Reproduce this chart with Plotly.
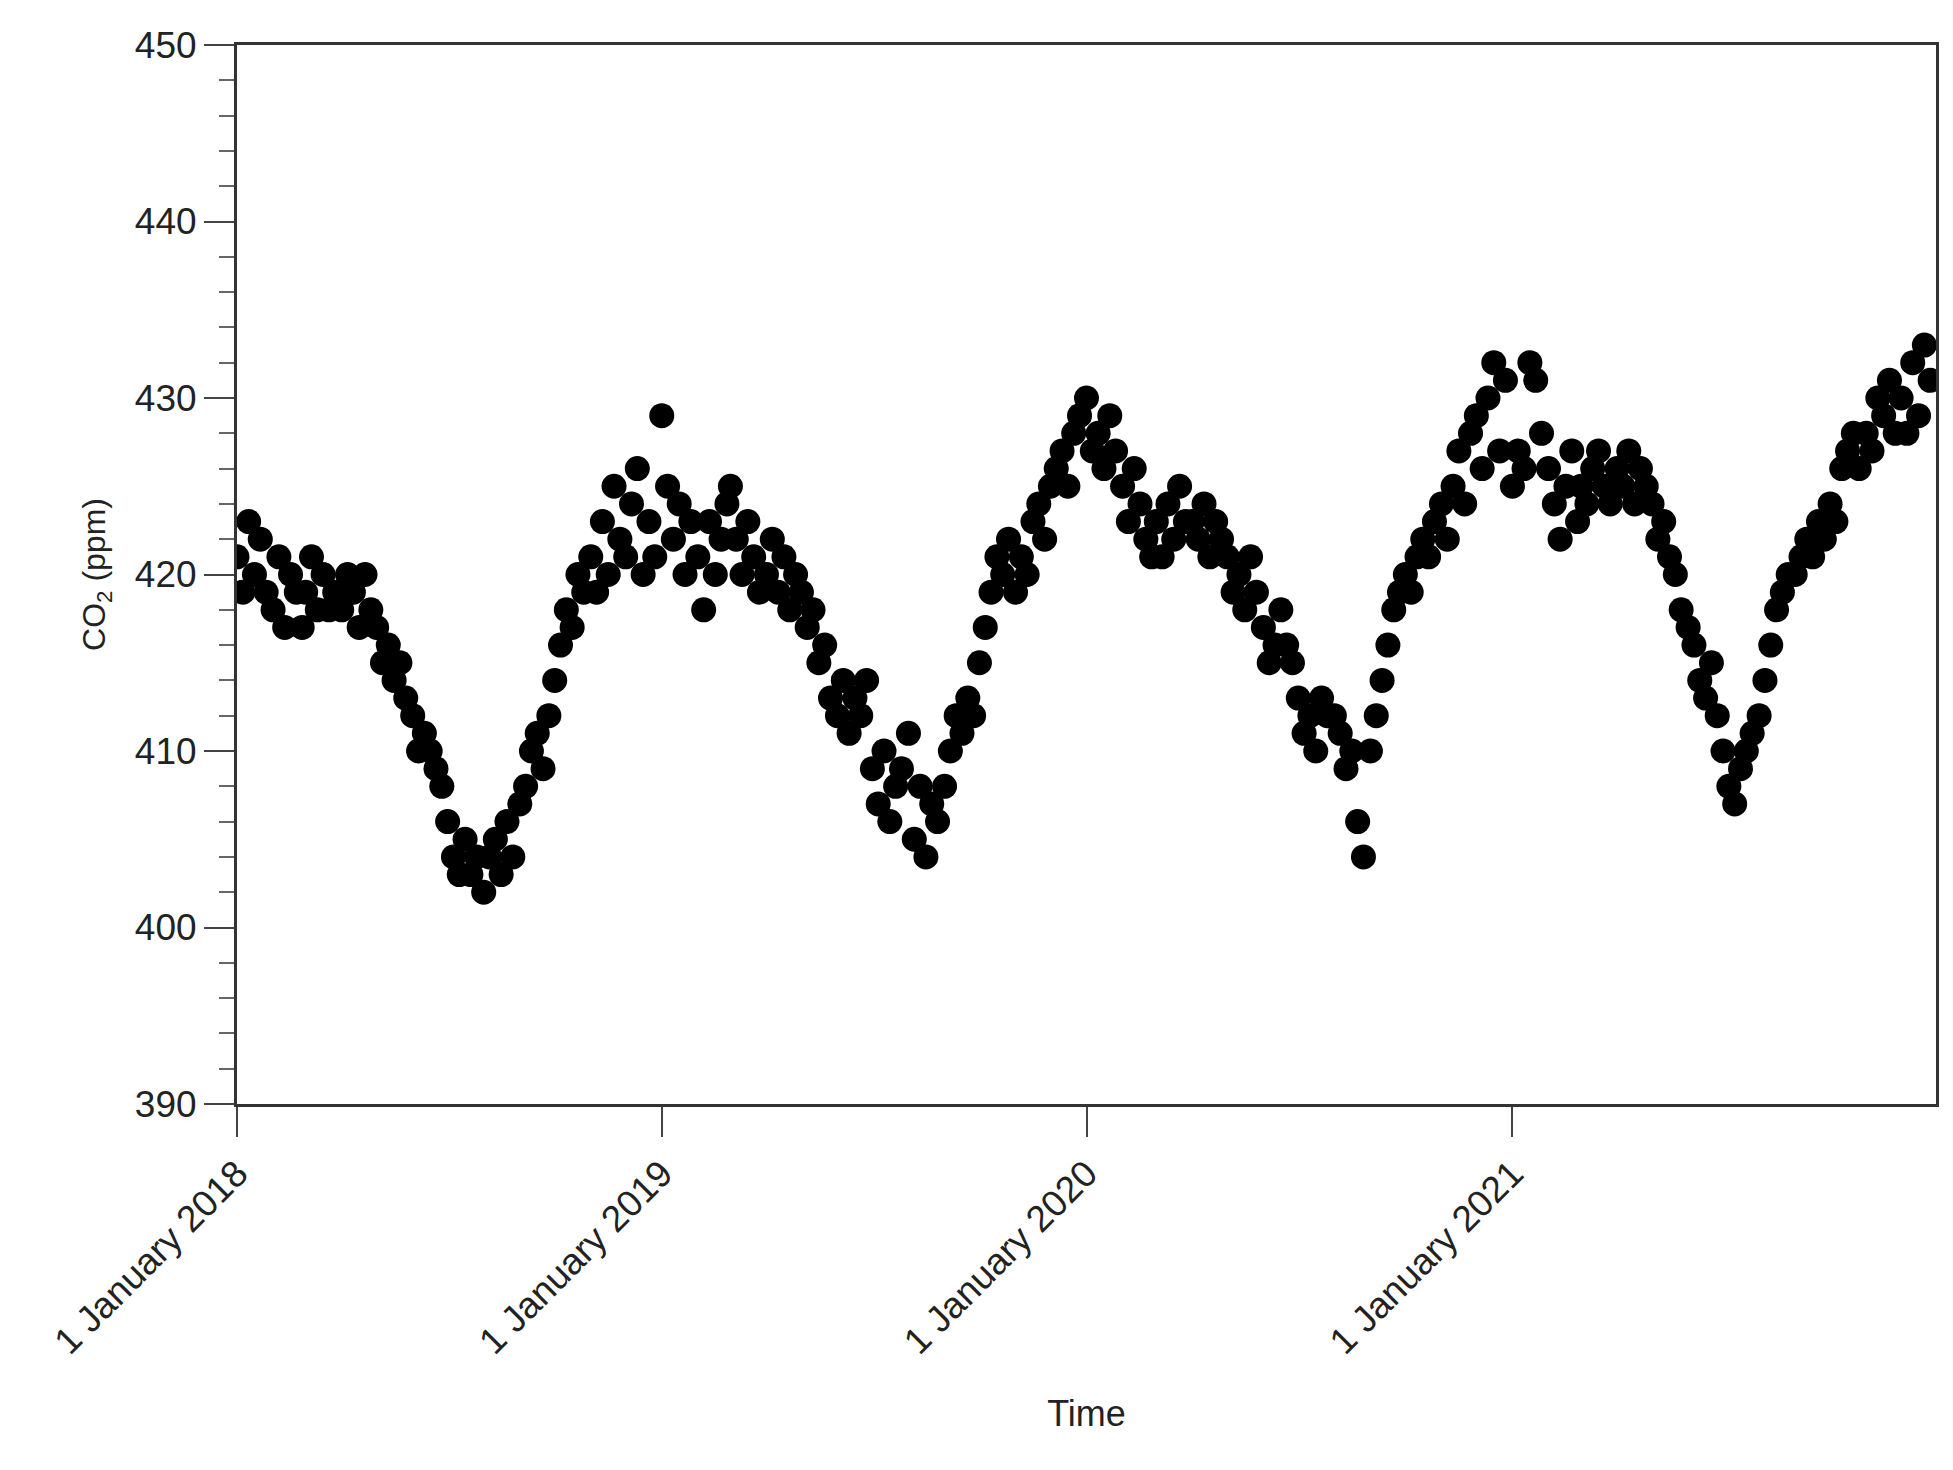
import pandas as pd
import plotly.graph_objects as go

# CO2 readings, 6 per month (days 1, 6, 11, 16, 21, 26), Jan 2018 - Dec 2021
days = [1, 6, 11, 16, 21, 26]
co2_2018 = [421,419,423,420,422,419, 418,421,417,420,419,417, 419,421,418,420,418,419,
            418,420,419,417,420,418, 417,415,416,414,415,413, 412,410,411,410,409,408,
            406,404,403,405,403,404, 402,404,405,403,406,404, 407,408,410,411,409,412,
            414,416,418,417,420,419, 421,419,423,420,425,422, 421,424,426,420,423,421]
co2_2019 = [429,425,422,424,420,423, 421,418,423,420,422,424, 425,422,420,423,421,419,
            420,422,419,421,418,420, 419,417,418,415,416,413, 412,414,411,413,412,414,
            409,407,410,406,408,409, 411,405,408,404,407,406, 408,410,412,411,413,412,
            415,417,419,421,420,422, 419,421,420,423,424,422, 425,426,427,425,428,429]
co2_2020 = [430,427,428,426,429,427, 425,423,426,424,422,421, 423,421,424,422,425,423,
            423,422,424,421,423,422, 421,419,420,418,421,419, 417,415,416,418,416,415,
            413,411,412,410,413,412, 412,411,409,410,406,404, 410,412,414,416,418,419,
            420,419,421,422,421,423, 424,422,425,427,424,428, 429,426,430,432,427,431]
co2_2021 = [425,427,426,432,431,428, 426,424,422,425,427,423, 425,424,426,427,425,424,
            426,425,427,424,426,425, 424,422,423,421,420,418, 417,416,414,413,415,412,
            410,408,407,409,410,411, 412,414,416,418,419,420, 420,421,422,421,423,422,
            424,423,426,427,428,426, 428,427,430,429,431,428, 430,428,432,429,433,431]

dates = []
for yr in [2018, 2019, 2020, 2021]:
    for m in range(1, 13):
        for d in days:
            dates.append(pd.Timestamp(yr, m, d))
values = co2_2018 + co2_2019 + co2_2020 + co2_2021

tick_dates = ["2018-01-01", "2019-01-01", "2020-01-01", "2021-01-01"]
tick_text = ["1 January 2018", "1 January 2019", "1 January 2020", "1 January 2021"]

fig = go.Figure(go.Scatter(x=dates, y=values, mode="markers",
                           marker=dict(color="black", size=25)))

fig.update_layout(
    width=1953, height=1470,
    margin=dict(l=229, r=25, t=37, b=374),
    plot_bgcolor="white", paper_bgcolor="white",
    font=dict(family="Liberation Sans, Arial", size=37, color="#222"),
    showlegend=False,
)
fig.update_xaxes(range=["2018-01-01", "2021-12-31"], tickvals=tick_dates, ticktext=tick_text,
                 tickangle=-45, ticks="outside", ticklen=30, tickwidth=2,
                 showline=True, linewidth=3, linecolor="#333", mirror=True,
                 showgrid=False, zeroline=False,
                 title=dict(text="Time", standoff=40, font=dict(size=36)))
fig.update_yaxes(range=[390, 450], dtick=10, ticks="outside", ticklen=30, tickwidth=2,
                 minor=dict(dtick=2, ticks="outside", ticklen=15, tickwidth=1.5, tickcolor="#666"),
                 showline=True, linewidth=3, linecolor="#333", mirror=True,
                 showgrid=False, zeroline=False,
                 title=dict(text="CO<sub>2</sub> (ppm)", standoff=20, font=dict(size=32)))

fig.write_html("out.html")
